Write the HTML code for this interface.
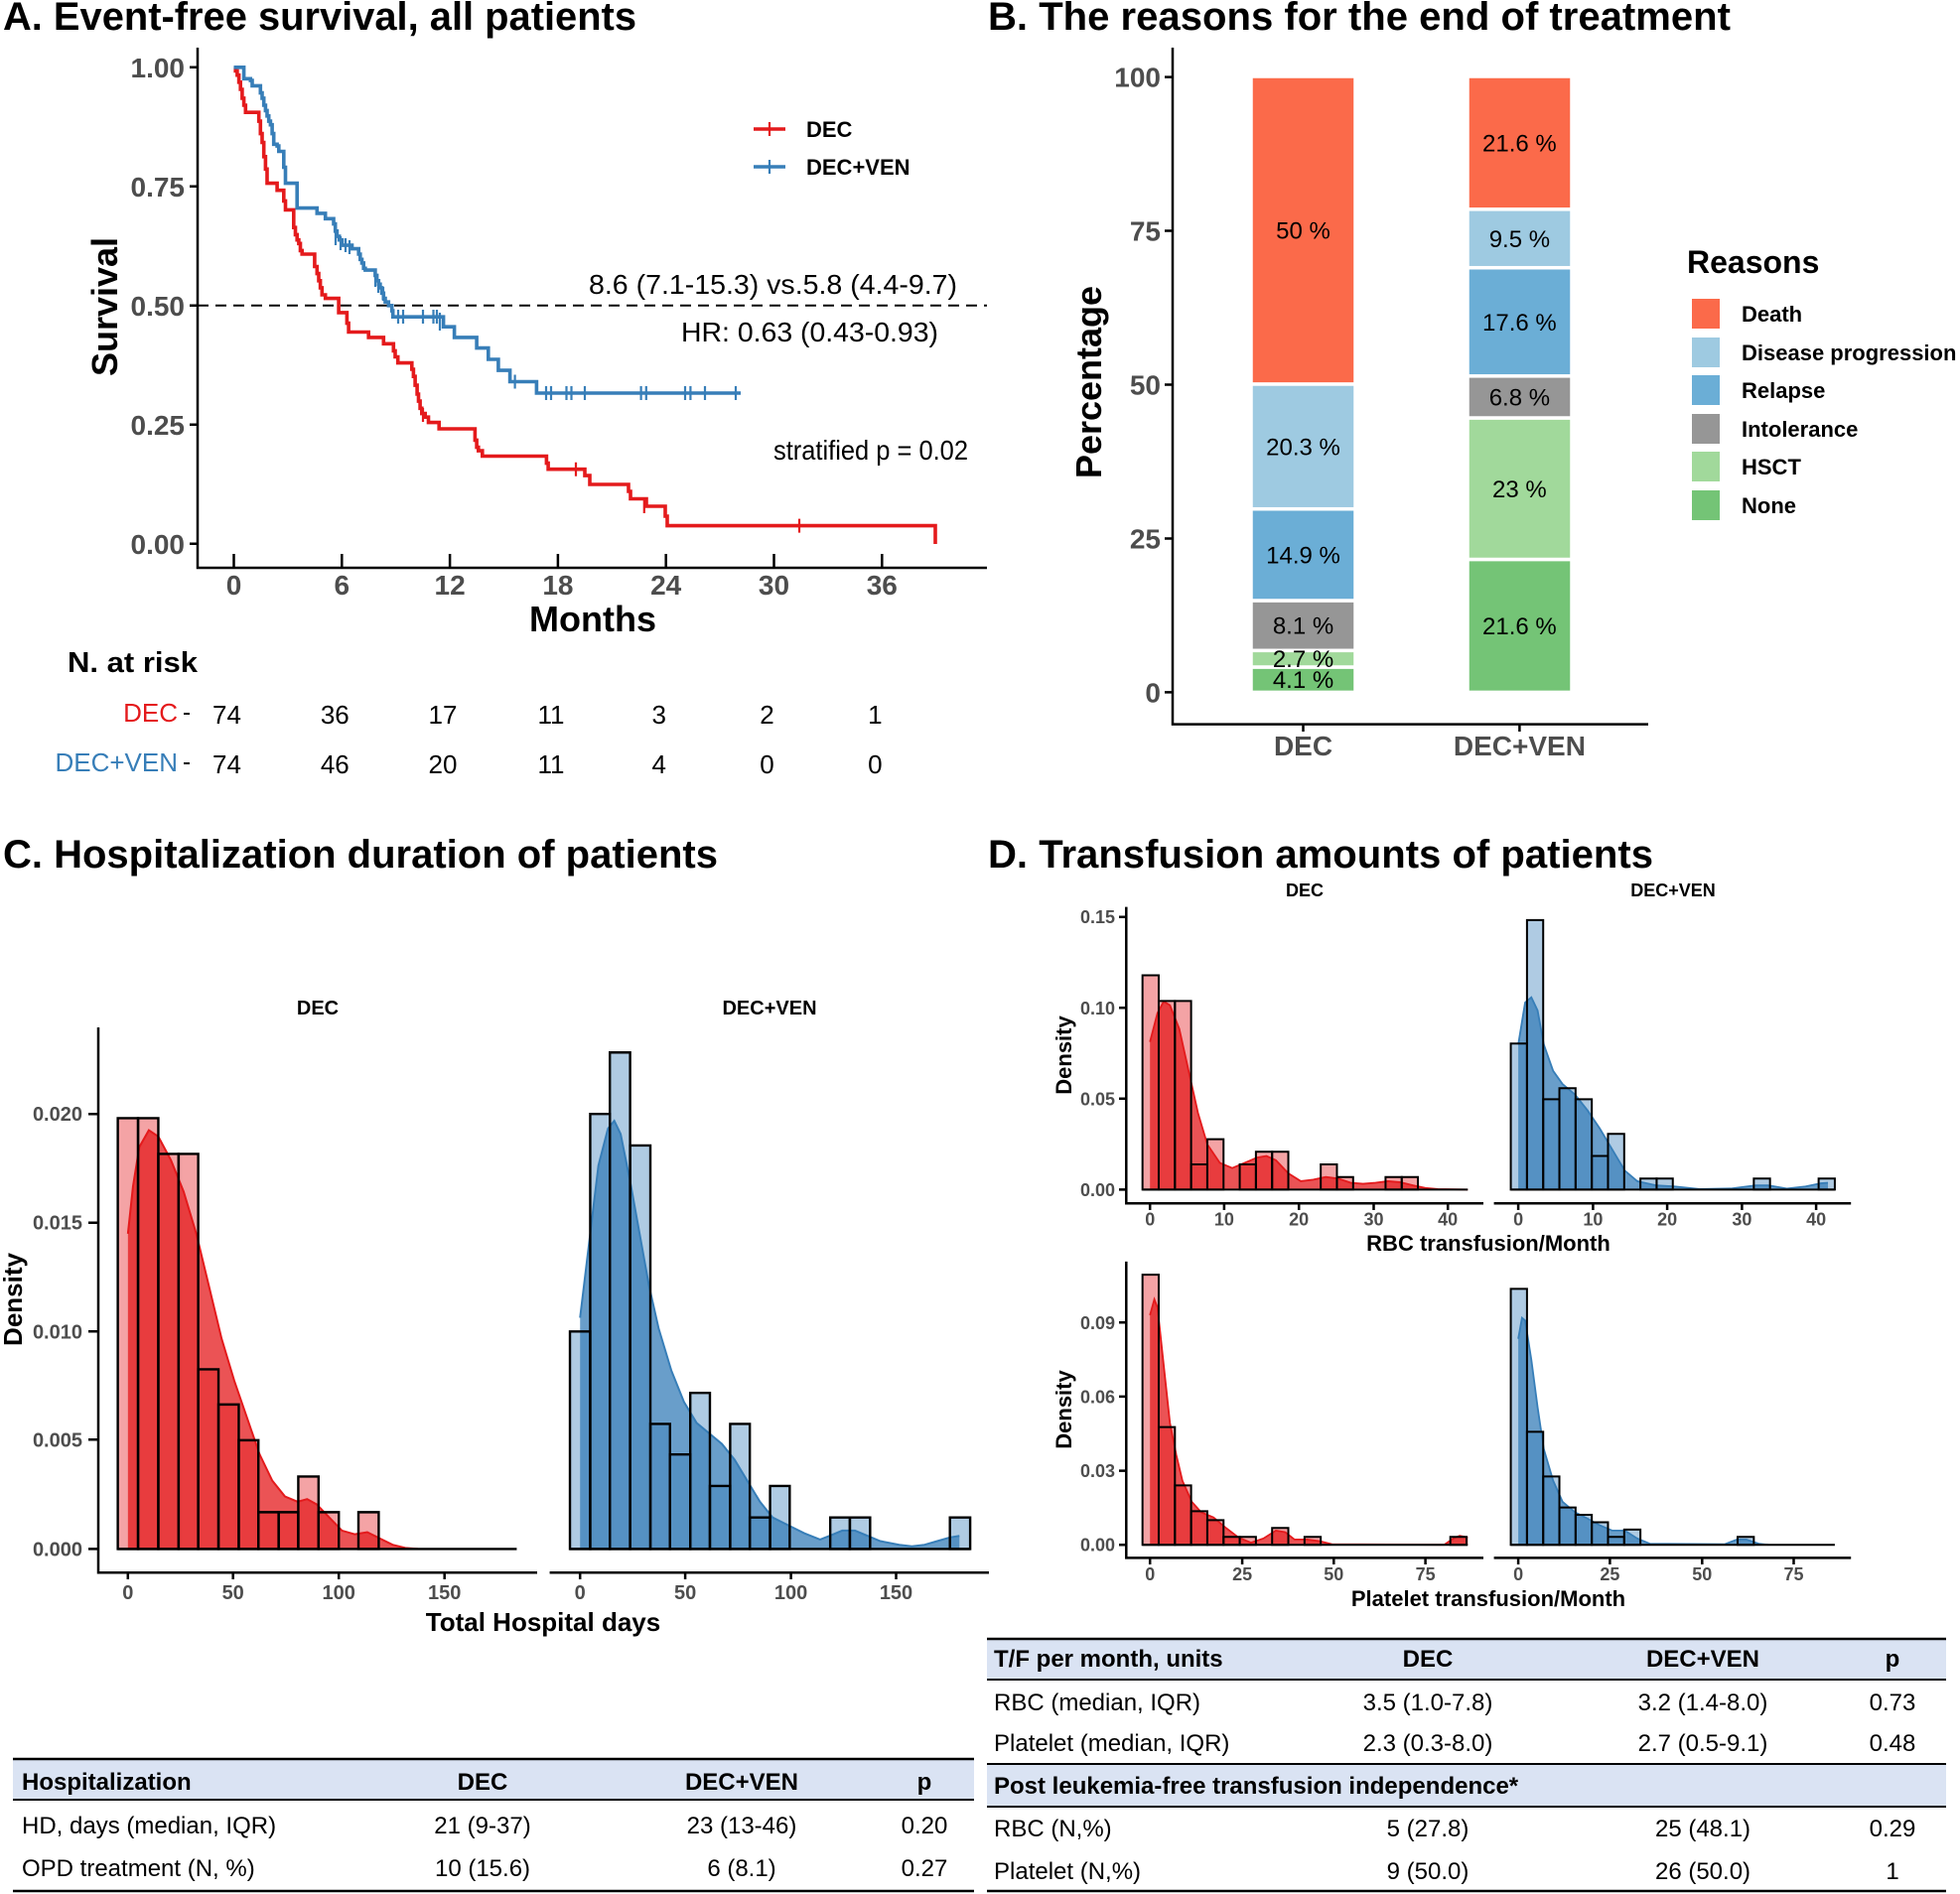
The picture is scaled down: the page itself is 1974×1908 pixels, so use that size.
<!DOCTYPE html>
<html><head><meta charset="utf-8"><style>
html,body{margin:0;padding:0;background:#fff}
svg{display:block}
text{font-family:"Liberation Sans",Arial,sans-serif}
.ti{font-size:40px;font-weight:bold;fill:#000}
.tk{font-weight:bold;fill:#4D4D4D}
.b{font-weight:bold}
</style></head><body>
<svg width="1974" height="1908" viewBox="0 0 1974 1908" xmlns="http://www.w3.org/2000/svg">
<rect width="1974" height="1908" fill="#fff"/>

<!-- ===================== PANEL A ===================== -->
<text class="ti" x="3" y="30" textLength="638" lengthAdjust="spacingAndGlyphs">A. Event-free survival, all patients</text>
<g stroke="#000" stroke-width="2.5" fill="none">
<path d="M199,48 V572 H994"/>
<path d="M191,67.8 H199 M191,187.8 H199 M191,307.8 H199 M191,427.8 H199 M191,547.8 H199"/>
<path d="M235.5,572 V558 M344.3,572 V558 M453.1,572 V558 M561.9,572 V558 M670.7,572 V558 M779.5,572 V558 M888.3,572 V558"/>
</g>
<g class="tk" font-size="28" text-anchor="end">
<text x="186" y="78">1.00</text><text x="186" y="198">0.75</text><text x="186" y="318">0.50</text><text x="186" y="438">0.25</text><text x="186" y="558">0.00</text>
</g>
<g class="tk" font-size="28" text-anchor="middle">
<text x="235.5" y="599">0</text><text x="344.3" y="599">6</text><text x="453.1" y="599">12</text><text x="561.9" y="599">18</text><text x="670.7" y="599">24</text><text x="779.5" y="599">30</text><text x="888.3" y="599">36</text>
</g>
<text class="b" font-size="36" x="597" y="636" text-anchor="middle">Months</text>
<text class="b" font-size="36" transform="translate(118,309) rotate(-90)" text-anchor="middle">Survival</text>
<line x1="199" y1="307.8" x2="994" y2="307.8" stroke="#000" stroke-width="2" stroke-dasharray="11 7"/>
<!-- red curve -->
<path fill="none" stroke="#E41A1C" stroke-width="3.6" d="M235.5,67.8 H237.2 V71.4 H238.9 V75.7 H240.6 V82.8 H242.2 V90 H243.9 V98.9 H245.6 V106 H247.3 V113.2 H259 H260.7 V122.1 H262.3 V134.6 H264 V143.5 H265.7 V157.8 H267.4 V170.3 H269 V184.6 H277.4 H279.1 V191.7 H284.1 H285.8 V202.4 H287.5 V211.4 H294.2 H295.8 V229.2 H297.5 V236.4 H299.2 V241.7 H300.9 V245.3 H302.5 V252.4 H304.2 V256 H315.9 H316.9 V268.5 H319.3 V275.6 H321 V282.8 H322.6 V289.9 H324.3 V297 H327.7 V300.6 H339.4 H341.1 V314.9 H347.8 H349.4 V325.6 H351.1 V334.5 H371.2 V339.9 H384.6 H386.3 V346.3 H394.7 H396.3 V353.4 H398 V359.5 H400.7 V365.6 H413.1 H414.8 V372 H416.4 V379.2 H418.1 V388.1 H420.1 V397 H421.5 V404.1 H423.1 V411.3 H424.8 V416.6 H428.2 V420.2 H431.5 V425.6 H441.6 H442.2 V432 H476.7 H478.4 V443.4 H480.1 V450.6 H481.8 V454.1 H485.8 V459.5 H548.8 H550.4 V466.6 H552.1 V472.7 H587.3 H589 V479.1 H594 V488 H632 H633 V495 H635 V502.5 H648 H651 V510 H667 H670 V520 H672 V529.6 H942 V548"/>
<path fill="none" stroke="#E41A1C" stroke-width="2.2" d="M426,411 V425 M580,465.7 V479.7 M648.8,503 V517 M805,522.6 V536.6"/>
<!-- blue curve -->
<path fill="none" stroke="#377EB8" stroke-width="3.6" d="M235.5,67.8 H245.6 V79.3 H252.3 V81.1 H254 V86.4 H260.7 H262.3 V93.6 H264 V98.9 H265.7 V106 H267.4 V111.4 H269 V116.8 H270.7 V122.1 H272.4 V125.7 H274.1 V134.6 H275.7 V145.3 H279.1 V147.1 H280.8 V152.5 H284.1 H285.8 V168.5 H287.5 V184.6 H297.5 H299.2 V209.6 H317.6 H319.3 V214.9 H326 H327.7 V220.3 H334.4 H336 V225.6 H337.7 V232.8 H339.4 V238.1 H341.7 V241.7 H344.4 V247.1 H352.8 H354.5 V250.6 H359.5 H361.2 V256 H362.8 V261.3 H364.5 V264.9 H366.2 V270.3 H367.9 V272.1 H376.2 H377.9 V277.4 H379.6 V282.8 H381.3 V286.3 H382.9 V289.9 H384.6 V295.3 H386.3 V300.6 H388 V304.2 H391.3 V307.8 H394.7 V313.1 H395.7 V319.2 H444.9 H446.6 V329.2 H456.6 H457.6 V339.9 H478.4 H480.1 V350.6 H490.1 H491.8 V362 H500.2 H501.9 V373.1 H511.9 H513.6 V384.5 H538.7 H540.4 V396 H746"/>
<path fill="none" stroke="#377EB8" stroke-width="2.2" d="M338,233 V247 M343,238 V252 M348,240 V254 M352,242 V256 M378,275 V289 M381,281 V295 M386,289 V303 M401,312 V326 M406,312 V326 M426,312 V326 M436.5,312 V326 M440,312 V326 M443,315 V333 M518.6,377.5 V391.5 M550,389 V403 M555,389 V403 M570.5,389 V403 M575.5,389 V403 M589,389 V403 M645.6,389 V403 M650.8,389 V403 M690,389 V403 M695.4,389 V403 M710,389 V403 M741,389 V403"/>
<!-- legend A -->
<path stroke="#E41A1C" stroke-width="3.6" d="M759,130 H791"/><path stroke="#E41A1C" stroke-width="2.2" d="M775,123 V137"/>
<path stroke="#377EB8" stroke-width="3.6" d="M759,168 H791"/><path stroke="#377EB8" stroke-width="2.2" d="M775,161 V175"/>
<text class="b" font-size="22" x="812" y="138">DEC</text>
<text class="b" font-size="22" x="812" y="176">DEC+VEN</text>
<g font-size="28" fill="#000">
<text x="593" y="296" textLength="371" lengthAdjust="spacingAndGlyphs">8.6 (7.1-15.3) vs.5.8 (4.4-9.7)</text>
<text x="686" y="344" textLength="259" lengthAdjust="spacingAndGlyphs">HR: 0.63 (0.43-0.93)</text>
<text x="779" y="463" textLength="196" lengthAdjust="spacingAndGlyphs">stratified p = 0.02</text>
</g>
<!-- risk table -->
<text class="b" font-size="29" x="68" y="677" textLength="131" lengthAdjust="spacingAndGlyphs">N. at risk</text>
<text font-size="26" x="179" y="727" text-anchor="end" fill="#E41A1C">DEC</text>
<text font-size="26" x="179" y="777" text-anchor="end" fill="#377EB8">DEC+VEN</text>
<path stroke="#000" stroke-width="2" d="M185,719 H191 M185,769 H191"/>
<g font-size="26" text-anchor="middle" fill="#000">
<text x="228.5" y="729">74</text><text x="337.3" y="729">36</text><text x="446" y="729">17</text><text x="555" y="729">11</text><text x="663.7" y="729">3</text><text x="772.5" y="729">2</text><text x="881.3" y="729">1</text>
<text x="228.5" y="779">74</text><text x="337.3" y="779">46</text><text x="446" y="779">20</text><text x="555" y="779">11</text><text x="663.7" y="779">4</text><text x="772.5" y="779">0</text><text x="881.3" y="779">0</text>
</g>

<!-- ===================== PANEL B ===================== -->
<text class="ti" x="995" y="30" textLength="748" lengthAdjust="spacingAndGlyphs">B. The reasons for the end of treatment</text>
<g stroke="#000" stroke-width="2.5" fill="none">
<path d="M1181,48 V729.6 H1660"/>
<path d="M1173,77.6 H1181 M1173,232.5 H1181 M1173,387.5 H1181 M1173,542.5 H1181 M1173,697.4 H1181"/>
<path d="M1312.5,729.6 V737 M1530.4,729.6 V737"/>
</g>
<g class="tk" font-size="28" text-anchor="end">
<text x="1169" y="87.6">100</text><text x="1169" y="242.5">75</text><text x="1169" y="397.5">50</text><text x="1169" y="552.5">25</text><text x="1169" y="707.4">0</text>
</g>
<g class="tk" font-size="28" text-anchor="middle">
<text x="1312.5" y="761">DEC</text><text x="1530.4" y="761">DEC+VEN</text>
</g>
<text class="b" font-size="36" transform="translate(1109,385) rotate(-90)" text-anchor="middle">Percentage</text>
<g stroke="#fff" stroke-width="3.5">
<rect x="1260" y="672.0" width="105" height="25.4" fill="#74C476"/>
<rect x="1260" y="655.3" width="105" height="16.7" fill="#A1D99B"/>
<rect x="1260" y="605.0" width="105" height="50.3" fill="#969696"/>
<rect x="1260" y="512.7" width="105" height="92.3" fill="#6BAED6"/>
<rect x="1260" y="386.9" width="105" height="125.8" fill="#9ECAE1"/>
<rect x="1260" y="77.0" width="105" height="309.9" fill="#FB6A4A"/>
<rect x="1478" y="563.5" width="105" height="133.9" fill="#74C476"/>
<rect x="1478" y="421.0" width="105" height="142.5" fill="#A1D99B"/>
<rect x="1478" y="378.8" width="105" height="42.2" fill="#969696"/>
<rect x="1478" y="269.7" width="105" height="109.1" fill="#6BAED6"/>
<rect x="1478" y="210.8" width="105" height="58.9" fill="#9ECAE1"/>
<rect x="1478" y="77.0" width="105" height="133.8" fill="#FB6A4A"/>
</g>
<g font-size="24" text-anchor="middle" fill="#000">
<text x="1312.5" y="240.5">50 %</text><text x="1312.5" y="458.3">20.3 %</text><text x="1312.5" y="567.4">14.9 %</text><text x="1312.5" y="638.5">8.1 %</text><text x="1312.5" y="672.2">2.7 %</text><text x="1312.5" y="693.2">4.1 %</text>
<text x="1530.4" y="152.4">21.6 %</text><text x="1530.4" y="248.8">9.5 %</text><text x="1530.4" y="332.8">17.6 %</text><text x="1530.4" y="408.4">6.8 %</text><text x="1530.4" y="500.8">23 %</text><text x="1530.4" y="639">21.6 %</text>
</g>
<text class="b" font-size="32" x="1699" y="275">Reasons</text>
<rect x="1704" y="301" width="28" height="30" fill="#FB6A4A"/>
<rect x="1704" y="340" width="28" height="30" fill="#9ECAE1"/>
<rect x="1704" y="378" width="28" height="30" fill="#6BAED6"/>
<rect x="1704" y="417" width="28" height="30" fill="#969696"/>
<rect x="1704" y="455" width="28" height="30" fill="#A1D99B"/>
<rect x="1704" y="494" width="28" height="30" fill="#74C476"/>
<g class="b" font-size="22">
<text x="1754" y="324">Death</text><text x="1754" y="363">Disease progression</text><text x="1754" y="401">Relapse</text><text x="1754" y="440">Intolerance</text><text x="1754" y="478">HSCT</text><text x="1754" y="517">None</text>
</g>

<!-- ===================== PANEL C ===================== -->
<text class="ti" x="3" y="874" textLength="720" lengthAdjust="spacingAndGlyphs">C. Hospitalization duration of patients</text>
<g transform="translate(0,830) scale(0.6378,0.5293)">
<g fill="#F4A3A5">
<rect x="186" y="560" width="32" height="820"/><rect x="218" y="560" width="32" height="820"/><rect x="250" y="628" width="32" height="752"/><rect x="282" y="628" width="31" height="752"/><rect x="313" y="1038" width="32" height="342"/><rect x="345" y="1105" width="32" height="275"/><rect x="377" y="1173" width="31" height="207"/><rect x="408" y="1310" width="32" height="70"/><rect x="440" y="1310" width="31" height="70"/><rect x="471" y="1242" width="32" height="138"/><rect x="503" y="1310" width="32" height="70"/><rect x="566" y="1310" width="32" height="70"/>
</g>
<g fill="#AFCBE3">
<rect x="900" y="966" width="32" height="414"/><rect x="932" y="552" width="31" height="828"/><rect x="963" y="435" width="32" height="945"/><rect x="995" y="612" width="32" height="768"/><rect x="1027" y="1142" width="31" height="238"/><rect x="1058" y="1200" width="32" height="180"/><rect x="1090" y="1083" width="31" height="297"/><rect x="1121" y="1260" width="32" height="120"/><rect x="1153" y="1142" width="31" height="238"/><rect x="1184" y="1320" width="32" height="60"/><rect x="1216" y="1260" width="31" height="120"/><rect x="1311" y="1320" width="31" height="60"/><rect x="1342" y="1320" width="32" height="60"/><rect x="1500" y="1320" width="32" height="60"/>
</g>
<path fill="#E41A1C" fill-opacity="0.75" d="M202,1380 L202,780 L210,690 L220,615 L235,583 L250,595 L270,640 L290,700 L310,780 L330,880 L350,980 L370,1060 L390,1130 L410,1200 L430,1250 L450,1280 L470,1290 L485,1285 L500,1295 L520,1320 L540,1345 L560,1352 L580,1348 L600,1360 L620,1372 L640,1378 L660,1380 Z"/>
<path fill="none" stroke="#E41A1C" stroke-width="2" vector-effect="non-scaling-stroke" d="M202,780 L210,690 L220,615 L235,583 L250,595 L270,640 L290,700 L310,780 L330,880 L350,980 L370,1060 L390,1130 L410,1200 L430,1250 L450,1280 L470,1290 L485,1285 L500,1295 L520,1320 L540,1345 L560,1352 L580,1348 L600,1360 L620,1372 L640,1378 L660,1380"/>
<path fill="#377EB8" fill-opacity="0.75" d="M916,1380 L916,940 L930,800 L945,650 L960,580 L970,565 L980,590 L995,680 L1010,780 L1025,880 L1040,960 L1060,1040 L1080,1100 L1100,1140 L1120,1160 L1140,1180 L1160,1210 L1180,1250 L1200,1290 L1220,1320 L1245,1335 L1270,1350 L1295,1362 L1310,1355 L1330,1345 L1350,1345 L1370,1355 L1390,1365 L1420,1372 L1440,1375 L1460,1372 L1480,1365 L1500,1358 L1515,1355 L1515,1380 Z"/>
<path fill="none" stroke="#377EB8" stroke-width="2" vector-effect="non-scaling-stroke" d="M916,940 L930,800 L945,650 L960,580 L970,565 L980,590 L995,680 L1010,780 L1025,880 L1040,960 L1060,1040 L1080,1100 L1100,1140 L1120,1160 L1140,1180 L1160,1210 L1180,1250 L1200,1290 L1220,1320 L1245,1335 L1270,1350 L1295,1362 L1310,1355 L1330,1345 L1350,1345 L1370,1355 L1390,1365 L1420,1372 L1440,1375 L1460,1372 L1480,1365 L1500,1358 L1515,1355"/>
<g fill="none" stroke="#000" stroke-width="2.4" vector-effect="non-scaling-stroke">
<rect x="186" y="560" width="32" height="820" vector-effect="non-scaling-stroke"/><rect x="218" y="560" width="32" height="820" vector-effect="non-scaling-stroke"/><rect x="250" y="628" width="32" height="752" vector-effect="non-scaling-stroke"/><rect x="282" y="628" width="31" height="752" vector-effect="non-scaling-stroke"/><rect x="313" y="1038" width="32" height="342" vector-effect="non-scaling-stroke"/><rect x="345" y="1105" width="32" height="275" vector-effect="non-scaling-stroke"/><rect x="377" y="1173" width="31" height="207" vector-effect="non-scaling-stroke"/><rect x="408" y="1310" width="32" height="70" vector-effect="non-scaling-stroke"/><rect x="440" y="1310" width="31" height="70" vector-effect="non-scaling-stroke"/><rect x="471" y="1242" width="32" height="138" vector-effect="non-scaling-stroke"/><rect x="503" y="1310" width="32" height="70" vector-effect="non-scaling-stroke"/><rect x="566" y="1310" width="32" height="70" vector-effect="non-scaling-stroke"/>
<rect x="900" y="966" width="32" height="414" vector-effect="non-scaling-stroke"/><rect x="932" y="552" width="31" height="828" vector-effect="non-scaling-stroke"/><rect x="963" y="435" width="32" height="945" vector-effect="non-scaling-stroke"/><rect x="995" y="612" width="32" height="768" vector-effect="non-scaling-stroke"/><rect x="1027" y="1142" width="31" height="238" vector-effect="non-scaling-stroke"/><rect x="1058" y="1200" width="32" height="180" vector-effect="non-scaling-stroke"/><rect x="1090" y="1083" width="31" height="297" vector-effect="non-scaling-stroke"/><rect x="1121" y="1260" width="32" height="120" vector-effect="non-scaling-stroke"/><rect x="1153" y="1142" width="31" height="238" vector-effect="non-scaling-stroke"/><rect x="1184" y="1320" width="32" height="60" vector-effect="non-scaling-stroke"/><rect x="1216" y="1260" width="31" height="120" vector-effect="non-scaling-stroke"/><rect x="1311" y="1320" width="31" height="60" vector-effect="non-scaling-stroke"/><rect x="1342" y="1320" width="32" height="60" vector-effect="non-scaling-stroke"/><rect x="1500" y="1320" width="32" height="60" vector-effect="non-scaling-stroke"/>
<path d="M186,1380 H816 M900,1380 H1532" vector-effect="non-scaling-stroke"/>
</g>
</g>
<g stroke="#000" stroke-width="2.5" fill="none">
<path d="M99,1035 V1584.3 H541 M553.6,1584.3 H996"/>
<path d="M89,1122.2 H99 M89,1231.7 H99 M89,1341.3 H99 M89,1450.3 H99 M89,1560.4 H99"/>
<path d="M128.8,1584.3 V1591 M234.7,1584.3 V1591 M341.2,1584.3 V1591 M447.7,1584.3 V1591 M584.2,1584.3 V1591 M690.1,1584.3 V1591 M796.6,1584.3 V1591 M902.5,1584.3 V1591"/>
</g>
<g class="tk" font-size="20" text-anchor="end">
<text x="83" y="1129">0.020</text><text x="83" y="1238.7">0.015</text><text x="83" y="1348.3">0.010</text><text x="83" y="1457.3">0.005</text><text x="83" y="1567.4">0.000</text>
</g>
<g class="tk" font-size="20" text-anchor="middle">
<text x="128.8" y="1611">0</text><text x="234.7" y="1611">50</text><text x="341.2" y="1611">100</text><text x="447.7" y="1611">150</text>
<text x="584.2" y="1611">0</text><text x="690.1" y="1611">50</text><text x="796.6" y="1611">100</text><text x="902.5" y="1611">150</text>
</g>
<text class="b" font-size="20" x="320" y="1022" text-anchor="middle">DEC</text>
<text class="b" font-size="20" x="775" y="1022" text-anchor="middle">DEC+VEN</text>
<text class="b" font-size="26" x="547" y="1643" text-anchor="middle">Total Hospital days</text>
<text class="b" font-size="26" transform="translate(22,1309) rotate(-90)" text-anchor="middle">Density</text>

<!-- ===================== PANEL D ===================== -->
<text class="ti" x="995" y="874" textLength="670" lengthAdjust="spacingAndGlyphs">D. Transfusion amounts of patients</text>
<g transform="translate(990,830) scale(0.6276,0.5293)">
<g fill="#F4A3A5">
<rect x="256" y="288" width="26" height="408"/><rect x="282" y="337" width="26" height="359"/><rect x="308" y="337" width="26" height="359"/><rect x="334" y="648" width="26" height="48"/><rect x="360" y="600" width="26" height="96"/><rect x="412" y="648" width="26" height="48"/><rect x="438" y="624" width="26" height="72"/><rect x="464" y="624" width="26" height="72"/><rect x="542" y="648" width="26" height="48"/><rect x="568" y="672" width="26" height="24"/><rect x="646" y="672" width="26" height="24"/><rect x="672" y="672" width="26" height="24"/>
<rect x="256" y="858" width="26" height="514"/><rect x="282" y="1148" width="26" height="224"/><rect x="308" y="1259" width="26" height="113"/><rect x="334" y="1308" width="26" height="64"/><rect x="360" y="1325" width="26" height="47"/><rect x="386" y="1357" width="26" height="15"/><rect x="412" y="1357" width="26" height="15"/><rect x="464" y="1340" width="26" height="32"/><rect x="516" y="1357" width="26" height="15"/><rect x="750" y="1357" width="26" height="15"/>
</g>
<g fill="#AFCBE3">
<rect x="847" y="418" width="26" height="278"/><rect x="873" y="183" width="26" height="513"/><rect x="899" y="524" width="26" height="172"/><rect x="925" y="503" width="26" height="193"/><rect x="951" y="524" width="26" height="172"/><rect x="977" y="632" width="26" height="64"/><rect x="1003" y="590" width="26" height="106"/><rect x="1055" y="675" width="26" height="21"/><rect x="1081" y="675" width="26" height="21"/><rect x="1237" y="675" width="26" height="21"/><rect x="1341" y="675" width="26" height="21"/>
<rect x="847" y="885" width="26" height="487"/><rect x="873" y="1157" width="26" height="215"/><rect x="899" y="1242" width="26" height="130"/><rect x="925" y="1301" width="26" height="71"/><rect x="951" y="1315" width="26" height="57"/><rect x="977" y="1329" width="26" height="43"/><rect x="1003" y="1357" width="26" height="15"/><rect x="1029" y="1343" width="26" height="29"/><rect x="1211" y="1357" width="26" height="15"/>
</g>
<path fill="#E41A1C" fill-opacity="0.75" d="M268,696 L268,415 L280,360 L290,338 L300,345 L315,390 L330,470 L345,550 L360,610 L380,645 L400,655 L420,645 L440,635 L455,632 L470,640 L490,665 L510,680 L530,677 L550,672 L570,675 L590,683 L610,685 L630,683 L650,680 L670,682 L690,688 L710,693 L730,695 L778,696 Z"/>
<path fill="none" stroke="#E41A1C" stroke-width="1.8" vector-effect="non-scaling-stroke" d="M268,415 L280,360 L290,338 L300,345 L315,390 L330,470 L345,550 L360,610 L380,645 L400,655 L420,645 L440,635 L455,632 L470,640 L490,665 L510,680 L530,677 L550,672 L570,675 L590,683 L610,685 L630,683 L650,680 L670,682 L690,688 L710,693 L730,695 L778,696"/>
<path fill="#377EB8" fill-opacity="0.75" d="M859,696 L859,420 L870,340 L880,330 L890,355 L900,420 L915,470 L930,495 L950,515 L970,545 L990,580 L1010,620 L1030,660 L1050,680 L1080,688 L1110,690 L1150,695 L1200,694 L1240,688 L1260,688 L1290,694 L1320,690 L1345,684 L1356,683 L1356,696 Z"/>
<path fill="none" stroke="#377EB8" stroke-width="1.8" vector-effect="non-scaling-stroke" d="M859,420 L870,340 L880,330 L890,355 L900,420 L915,470 L930,495 L950,515 L970,545 L990,580 L1010,620 L1030,660 L1050,680 L1080,688 L1110,690 L1150,695 L1200,694 L1240,688 L1260,688 L1290,694 L1320,690 L1345,684 L1356,683"/>
<path fill="#E41A1C" fill-opacity="0.75" d="M268,1372 L268,935 L275,905 L280,920 L290,1030 L300,1140 L310,1200 L320,1250 L335,1290 L350,1310 L370,1320 L390,1340 L410,1358 L430,1368 L450,1360 L470,1345 L485,1348 L500,1362 L520,1362 L540,1365 L560,1371 L740,1372 L755,1360 L765,1355 L778,1358 L778,1372 Z"/>
<path fill="none" stroke="#E41A1C" stroke-width="1.8" vector-effect="non-scaling-stroke" d="M268,935 L275,905 L280,920 L290,1030 L300,1140 L310,1200 L320,1250 L335,1290 L350,1310 L370,1320 L390,1340 L410,1358 L430,1368 L450,1360 L470,1345 L485,1348 L500,1362 L520,1362 L540,1365 L560,1371 L740,1372 L755,1360 L765,1355 L778,1358"/>
<path fill="#377EB8" fill-opacity="0.75" d="M859,1372 L859,980 L865,940 L870,945 L880,1020 L890,1110 L900,1190 L915,1250 L930,1290 L950,1310 L970,1322 L990,1335 L1010,1345 L1030,1345 L1050,1360 L1070,1370 L1190,1371 L1210,1362 L1225,1362 L1245,1370 L1260,1372 L1368,1372 Z"/>
<path fill="none" stroke="#377EB8" stroke-width="1.8" vector-effect="non-scaling-stroke" d="M859,980 L865,940 L870,945 L880,1020 L890,1110 L900,1190 L915,1250 L930,1290 L950,1310 L970,1322 L990,1335 L1010,1345 L1030,1345 L1050,1360 L1070,1370 L1190,1371 L1210,1362 L1225,1362 L1245,1370 L1260,1372"/>
<g fill="none" stroke="#000" stroke-width="2" >
<rect x="256" y="288" width="26" height="408" vector-effect="non-scaling-stroke"/><rect x="282" y="337" width="26" height="359" vector-effect="non-scaling-stroke"/><rect x="308" y="337" width="26" height="359" vector-effect="non-scaling-stroke"/><rect x="334" y="648" width="26" height="48" vector-effect="non-scaling-stroke"/><rect x="360" y="600" width="26" height="96" vector-effect="non-scaling-stroke"/><rect x="412" y="648" width="26" height="48" vector-effect="non-scaling-stroke"/><rect x="438" y="624" width="26" height="72" vector-effect="non-scaling-stroke"/><rect x="464" y="624" width="26" height="72" vector-effect="non-scaling-stroke"/><rect x="542" y="648" width="26" height="48" vector-effect="non-scaling-stroke"/><rect x="568" y="672" width="26" height="24" vector-effect="non-scaling-stroke"/><rect x="646" y="672" width="26" height="24" vector-effect="non-scaling-stroke"/><rect x="672" y="672" width="26" height="24" vector-effect="non-scaling-stroke"/>
<rect x="256" y="858" width="26" height="514" vector-effect="non-scaling-stroke"/><rect x="282" y="1148" width="26" height="224" vector-effect="non-scaling-stroke"/><rect x="308" y="1259" width="26" height="113" vector-effect="non-scaling-stroke"/><rect x="334" y="1308" width="26" height="64" vector-effect="non-scaling-stroke"/><rect x="360" y="1325" width="26" height="47" vector-effect="non-scaling-stroke"/><rect x="386" y="1357" width="26" height="15" vector-effect="non-scaling-stroke"/><rect x="412" y="1357" width="26" height="15" vector-effect="non-scaling-stroke"/><rect x="464" y="1340" width="26" height="32" vector-effect="non-scaling-stroke"/><rect x="516" y="1357" width="26" height="15" vector-effect="non-scaling-stroke"/><rect x="750" y="1357" width="26" height="15" vector-effect="non-scaling-stroke"/>
<rect x="847" y="418" width="26" height="278" vector-effect="non-scaling-stroke"/><rect x="873" y="183" width="26" height="513" vector-effect="non-scaling-stroke"/><rect x="899" y="524" width="26" height="172" vector-effect="non-scaling-stroke"/><rect x="925" y="503" width="26" height="193" vector-effect="non-scaling-stroke"/><rect x="951" y="524" width="26" height="172" vector-effect="non-scaling-stroke"/><rect x="977" y="632" width="26" height="64" vector-effect="non-scaling-stroke"/><rect x="1003" y="590" width="26" height="106" vector-effect="non-scaling-stroke"/><rect x="1055" y="675" width="26" height="21" vector-effect="non-scaling-stroke"/><rect x="1081" y="675" width="26" height="21" vector-effect="non-scaling-stroke"/><rect x="1237" y="675" width="26" height="21" vector-effect="non-scaling-stroke"/><rect x="1341" y="675" width="26" height="21" vector-effect="non-scaling-stroke"/>
<rect x="847" y="885" width="26" height="487" vector-effect="non-scaling-stroke"/><rect x="873" y="1157" width="26" height="215" vector-effect="non-scaling-stroke"/><rect x="899" y="1242" width="26" height="130" vector-effect="non-scaling-stroke"/><rect x="925" y="1301" width="26" height="71" vector-effect="non-scaling-stroke"/><rect x="951" y="1315" width="26" height="57" vector-effect="non-scaling-stroke"/><rect x="977" y="1329" width="26" height="43" vector-effect="non-scaling-stroke"/><rect x="1003" y="1357" width="26" height="15" vector-effect="non-scaling-stroke"/><rect x="1029" y="1343" width="26" height="29" vector-effect="non-scaling-stroke"/><rect x="1211" y="1357" width="26" height="15" vector-effect="non-scaling-stroke"/>
<path d="M256,696 H778 M847,696 H1367 M256,1372 H778 M847,1372 H1367" vector-effect="non-scaling-stroke"/>
</g>
</g>
<g stroke="#000" stroke-width="2.5" fill="none">
<path d="M1134.3,913.6 V1212.2 H1494 M1504.6,1212.2 H1864.2"/>
<path d="M1134.3,1270.9 V1569.4 H1494 M1504.6,1569.4 H1864.2"/>
<path d="M1127,923.7 H1134.3 M1127,1015.3 H1134.3 M1127,1106.8 H1134.3 M1127,1198.4 H1134.3"/>
<path d="M1127,1332.3 H1134.3 M1127,1406.9 H1134.3 M1127,1481.6 H1134.3 M1127,1556.2 H1134.3"/>
<path d="M1158.2,1212.2 V1219 M1232.9,1212.2 V1219 M1308.2,1212.2 V1219 M1383.5,1212.2 V1219 M1458.2,1212.2 V1219 M1529.1,1212.2 V1219 M1604.4,1212.2 V1219 M1679.1,1212.2 V1219 M1754.4,1212.2 V1219 M1829.1,1212.2 V1219"/>
<path d="M1158.2,1569.4 V1576 M1251.1,1569.4 V1576 M1343.3,1569.4 V1576 M1435.6,1569.4 V1576 M1529.1,1569.4 V1576 M1621.4,1569.4 V1576 M1714.3,1569.4 V1576 M1806.5,1569.4 V1576"/>
</g>
<g class="tk" font-size="18" text-anchor="end">
<text x="1123" y="930">0.15</text><text x="1123" y="1021.8">0.10</text><text x="1123" y="1113.3">0.05</text><text x="1123" y="1204.9">0.00</text>
<text x="1123" y="1338.8">0.09</text><text x="1123" y="1413.4">0.06</text><text x="1123" y="1488.1">0.03</text><text x="1123" y="1562.7">0.00</text>
</g>
<g class="tk" font-size="18" text-anchor="middle">
<text x="1158.2" y="1234.5">0</text><text x="1232.9" y="1234.5">10</text><text x="1308.2" y="1234.5">20</text><text x="1383.5" y="1234.5">30</text><text x="1458.2" y="1234.5">40</text>
<text x="1529.1" y="1234.5">0</text><text x="1604.4" y="1234.5">10</text><text x="1679.1" y="1234.5">20</text><text x="1754.4" y="1234.5">30</text><text x="1829.1" y="1234.5">40</text>
<text x="1158.2" y="1592">0</text><text x="1251.1" y="1592">25</text><text x="1343.3" y="1592">50</text><text x="1435.6" y="1592">75</text>
<text x="1529.1" y="1592">0</text><text x="1621.4" y="1592">25</text><text x="1714.3" y="1592">50</text><text x="1806.5" y="1592">75</text>
</g>
<text class="b" font-size="18" x="1314" y="903" text-anchor="middle">DEC</text>
<text class="b" font-size="18" x="1685" y="903" text-anchor="middle">DEC+VEN</text>
<text class="b" font-size="22" x="1499" y="1260" text-anchor="middle">RBC transfusion/Month</text>
<text class="b" font-size="22" x="1499" y="1618" text-anchor="middle">Platelet transfusion/Month</text>
<text class="b" font-size="22" transform="translate(1079,1063) rotate(-90)" text-anchor="middle">Density</text>
<text class="b" font-size="22" transform="translate(1079,1420) rotate(-90)" text-anchor="middle">Density</text>

<!-- ===================== TABLE C ===================== -->
<rect x="13" y="1773" width="968" height="40" fill="#DAE3F3"/>
<g stroke="#000" fill="none">
<path stroke-width="2.5" d="M13,1772 H981"/>
<path stroke-width="2" d="M13,1813 H981"/>
<path stroke-width="2.5" d="M13,1905 H981"/>
</g>
<g font-size="24" fill="#000">
<text class="b" x="22" y="1803">Hospitalization</text>
<text class="b" x="486" y="1803" text-anchor="middle">DEC</text>
<text class="b" x="747" y="1803" text-anchor="middle">DEC+VEN</text>
<text class="b" x="931" y="1803" text-anchor="middle">p</text>
<text x="22" y="1847">HD, days (median, IQR)</text>
<text x="486" y="1847" text-anchor="middle">21 (9-37)</text>
<text x="747" y="1847" text-anchor="middle">23 (13-46)</text>
<text x="931" y="1847" text-anchor="middle">0.20</text>
<text x="22" y="1890">OPD treatment (N, %)</text>
<text x="486" y="1890" text-anchor="middle">10 (15.6)</text>
<text x="747" y="1890" text-anchor="middle">6 (8.1)</text>
<text x="931" y="1890" text-anchor="middle">0.27</text>
</g>

<!-- ===================== TABLE D ===================== -->
<rect x="994" y="1652" width="966" height="40" fill="#DAE3F3"/>
<rect x="994" y="1778" width="966" height="42" fill="#DAE3F3"/>
<g stroke="#000" fill="none">
<path stroke-width="2.5" d="M994,1651 H1960"/>
<path stroke-width="2" d="M994,1692 H1960"/>
<path stroke-width="2" d="M994,1777 H1960"/>
<path stroke-width="2" d="M994,1820 H1960"/>
<path stroke-width="2.5" d="M994,1905 H1960"/>
</g>
<g font-size="24" fill="#000">
<text class="b" x="1001" y="1679">T/F per month, units</text>
<text class="b" x="1438" y="1679" text-anchor="middle">DEC</text>
<text class="b" x="1715" y="1679" text-anchor="middle">DEC+VEN</text>
<text class="b" x="1906" y="1679" text-anchor="middle">p</text>
<text x="1001" y="1723">RBC (median, IQR)</text>
<text x="1438" y="1723" text-anchor="middle">3.5 (1.0-7.8)</text>
<text x="1715" y="1723" text-anchor="middle">3.2 (1.4-8.0)</text>
<text x="1906" y="1723" text-anchor="middle">0.73</text>
<text x="1001" y="1764">Platelet (median, IQR)</text>
<text x="1438" y="1764" text-anchor="middle">2.3 (0.3-8.0)</text>
<text x="1715" y="1764" text-anchor="middle">2.7 (0.5-9.1)</text>
<text x="1906" y="1764" text-anchor="middle">0.48</text>
<text class="b" x="1001" y="1807">Post leukemia-free transfusion independence*</text>
<text x="1001" y="1850">RBC (N,%)</text>
<text x="1438" y="1850" text-anchor="middle">5 (27.8)</text>
<text x="1715" y="1850" text-anchor="middle">25 (48.1)</text>
<text x="1906" y="1850" text-anchor="middle">0.29</text>
<text x="1001" y="1893">Platelet (N,%)</text>
<text x="1438" y="1893" text-anchor="middle">9 (50.0)</text>
<text x="1715" y="1893" text-anchor="middle">26 (50.0)</text>
<text x="1906" y="1893" text-anchor="middle">1</text>
</g>
</svg>
</body></html>
